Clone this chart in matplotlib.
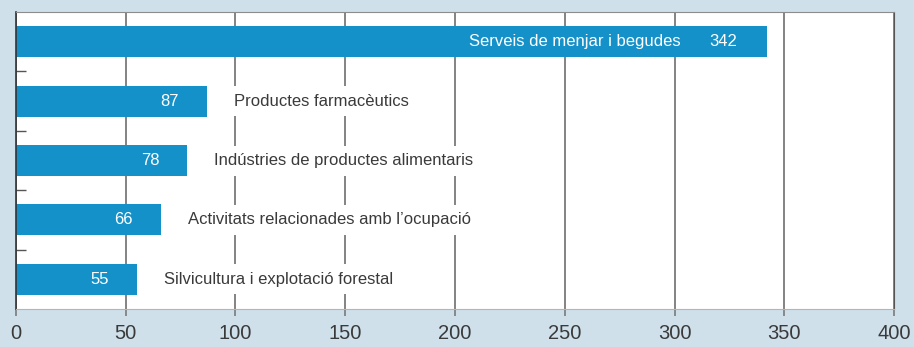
import matplotlib
matplotlib.use("Agg")
import matplotlib.pyplot as plt
from matplotlib.ticker import FixedLocator

categories = ["Serveis de menjar i begudes", "Productes farmacèutics",
              "Indústries de productes alimentaris",
              "Activitats relacionades amb l\u2019ocupació",
              "Silvicultura i explotació forestal"]
values = [342, 87, 78, 66, 55]
xticks = [0, 50, 100, 150, 200, 250, 300, 350, 400]

plt.rcParams['font.family'] = ['Liberation Sans', 'DejaVu Sans']

bg = "#cfe0eb"
bar_c = "#1591c9"
txt_c = "#3a3a3a"
grid_c = "#7a7a7a"

fig = plt.figure(figsize=(9.14, 3.47), dpi=100, facecolor=bg)
ax = fig.add_axes([16/914, 38/347, 878/914, 297/347])
ax.set_facecolor("white")

y = list(range(len(categories)))
ax.barh(y, values, height=0.52, color=bar_c, zorder=3)
ax.set_xlim(0, 400)
ax.set_ylim(len(categories) - 0.5, -0.5)

for i, (cat, v) in enumerate(zip(categories, values)):
    if i == 0:
        ax.annotate(str(v), (v, i), xytext=(-21.5, 0), textcoords="offset points",
                    ha="right", va="center", color="white", fontsize=12, zorder=5)
        ax.annotate(cat, (v, i), xytext=(-62, 0), textcoords="offset points",
                    ha="right", va="center", color="white", fontsize=12, zorder=5)
    else:
        ax.annotate(str(v), (v, i), xytext=(-20, 0), textcoords="offset points",
                    ha="right", va="center", color="white", fontsize=12, zorder=5)
        ax.annotate(cat, (v, i), xytext=(19.5, 0), textcoords="offset points",
                    ha="left", va="center", color=txt_c, fontsize=12, zorder=5,
                    bbox=dict(boxstyle="square,pad=0.45", fc="white", ec="none"))

ax.set_xticks(xticks)
ax.set_xticklabels([str(t) for t in xticks], fontsize=14.5, color=txt_c)
ax.tick_params(axis="x", direction="out", length=5, width=1.2, color=grid_c, pad=6)
ax.xaxis.grid(True, color=grid_c, linewidth=1.3, zorder=1)
ax.set_axisbelow(True)

ax.set_yticks([])
ax.yaxis.set_minor_locator(FixedLocator([0.5, 1.5, 2.5, 3.5]))
ax.tick_params(axis="y", which="minor", direction="in", length=7, width=1, color="#555555")

ax.spines["left"].set_color("#333333")
ax.spines["left"].set_linewidth(1.2)
ax.spines["top"].set_color("#8c8c8c")
ax.spines["right"].set_color("#555555")
ax.spines["bottom"].set_color("#b5b5b5")
for s in ax.spines.values():
    s.set_zorder(4)

fig.savefig("out.png", dpi=100, facecolor=bg)
